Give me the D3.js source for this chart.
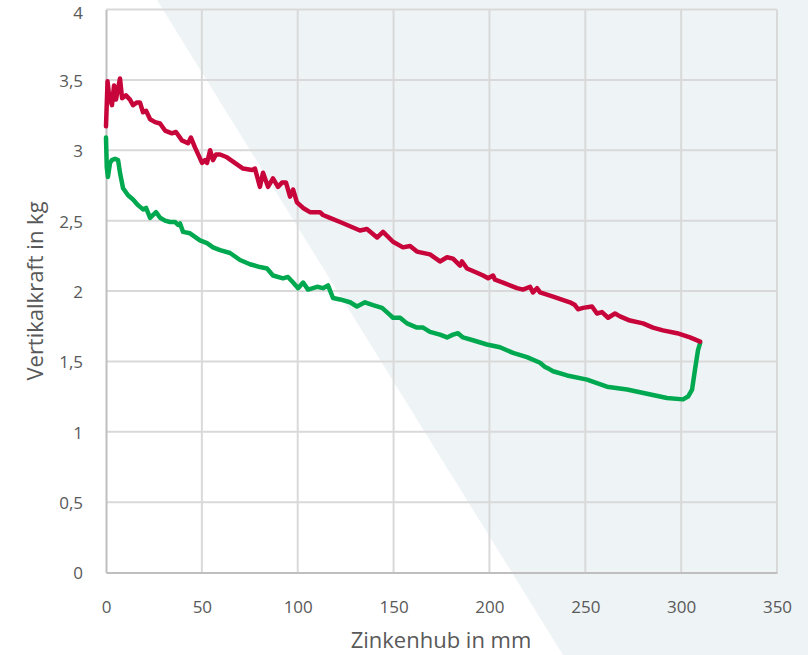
<!DOCTYPE html>
<html>
<head>
<meta charset="utf-8">
<script src="https://cdn.jsdelivr.net/npm/d3@7"></script>
<style>
  html, body { margin: 0; padding: 0; background: #ffffff; }
  svg { display: block; }
  text { font-family: "Open Sans", "Noto Sans", sans-serif; fill: #595959; }
</style>
</head>
<body>
<svg id="chart" width="808" height="655"></svg>
<script>
// ---- Data ----
const xTicks = [0, 50, 100, 150, 200, 250, 300, 350];
const yTicks = [0, 0.5, 1, 1.5, 2, 2.5, 3, 3.5, 4];
const xTitle = "Zinkenhub in mm";
const yTitle = "Vertikalkraft in kg";

const redX = [0, 0.8, 1.6, 3.1, 4.2, 5.2, 6.3, 7.3, 8.4, 10.4, 12.5, 14.1, 16.2, 17.7, 19.3, 20.9, 23.0, 25.6, 28.2, 30.8, 34.4, 36.5, 39.6, 42.8, 44.3, 46.4, 50.1, 51.6, 52.7, 54.3, 55.8, 57.4, 59.5, 63.1, 68.3, 71.5, 76.2, 77.7, 80.3, 81.9, 84.5, 87.1, 89.7, 91.8, 93.9, 96.0, 97.6, 99.6, 102.8, 106.4, 111.6, 113.2, 116.8, 122.1, 127.3, 132.5, 136.1, 141.4, 144.5, 149.7, 154.9, 158.6, 162.2, 169.0, 174.2, 177.9, 181.0, 184.7, 185.7, 188.3, 193.5, 196.7, 199.3, 201.9, 202.9, 207.1, 214.4, 217.5, 221.2, 222.7, 224.8, 226.4, 233.2, 242.0, 244.6, 246.2, 248.8, 253.5, 256.1, 258.7, 261.9, 265.5, 268.1, 273.3, 280.1, 285.3, 290.5, 297.9, 304.6, 309.9];
const redY = [3.17, 3.49, 3.39, 3.32, 3.46, 3.36, 3.44, 3.51, 3.37, 3.39, 3.36, 3.32, 3.34, 3.34, 3.27, 3.28, 3.22, 3.20, 3.19, 3.14, 3.12, 3.13, 3.07, 3.05, 3.09, 3.02, 2.91, 2.93, 2.91, 3.00, 2.93, 2.97, 2.97, 2.95, 2.90, 2.87, 2.86, 2.87, 2.74, 2.84, 2.74, 2.80, 2.74, 2.77, 2.77, 2.67, 2.72, 2.63, 2.59, 2.56, 2.56, 2.54, 2.52, 2.49, 2.46, 2.43, 2.44, 2.38, 2.42, 2.35, 2.31, 2.32, 2.28, 2.26, 2.21, 2.24, 2.23, 2.18, 2.21, 2.16, 2.13, 2.11, 2.09, 2.11, 2.08, 2.06, 2.02, 2.01, 2.03, 1.99, 2.02, 1.99, 1.96, 1.92, 1.90, 1.87, 1.88, 1.89, 1.84, 1.85, 1.81, 1.84, 1.82, 1.79, 1.77, 1.74, 1.72, 1.70, 1.67, 1.64];

const greenX = [0, 0.4, 1.0, 2.1, 3.1, 4.7, 6.3, 7.3, 8.9, 11.5, 14.1, 16.7, 19.3, 20.9, 23.0, 26.1, 28.2, 30.8, 33.4, 36.0, 37.6, 38.6, 40.2, 43.8, 49.0, 52.7, 55.8, 59.5, 64.7, 69.9, 75.1, 80.3, 84.0, 87.1, 92.3, 94.9, 97.6, 100.2, 102.8, 105.4, 110.1, 113.2, 115.8, 118.4, 122.1, 127.3, 130.9, 135.1, 139.3, 144.0, 148.1, 149.7, 153.4, 157.0, 162.2, 165.4, 169.0, 174.2, 177.9, 181.0, 183.6, 186.2, 191.4, 198.7, 205.5, 212.3, 219.6, 226.4, 229.0, 230.6, 233.2, 240.5, 250.9, 261.3, 271.8, 282.2, 292.6, 301.0, 303.6, 305.7, 307.2, 308.8, 309.9];
const greenY = [3.09, 2.88, 2.81, 2.91, 2.93, 2.94, 2.93, 2.84, 2.73, 2.68, 2.65, 2.61, 2.58, 2.59, 2.52, 2.56, 2.52, 2.50, 2.49, 2.49, 2.47, 2.48, 2.42, 2.41, 2.36, 2.34, 2.31, 2.29, 2.27, 2.22, 2.19, 2.17, 2.16, 2.11, 2.09, 2.10, 2.06, 2.02, 2.06, 2.01, 2.03, 2.02, 2.04, 1.95, 1.94, 1.92, 1.89, 1.92, 1.90, 1.88, 1.83, 1.81, 1.81, 1.77, 1.74, 1.74, 1.71, 1.69, 1.67, 1.69, 1.70, 1.67, 1.65, 1.62, 1.60, 1.56, 1.53, 1.49, 1.46, 1.45, 1.43, 1.40, 1.37, 1.32, 1.30, 1.27, 1.24, 1.23, 1.25, 1.30, 1.44, 1.58, 1.63];

const redColor = "#c8053a";
const greenColor = "#00a84f";

// ---- Chart ----
const W = 808, H = 655;
const svg = d3.select("#chart");

// decorative diagonal background band
svg.append("rect").attr("width", W).attr("height", H).attr("fill", "#ffffff");
svg.append("polygon")
  .attr("points", [[157, 0], [W, 0], [W, H], [563, H]].map(p => p.join(",")).join(" "))
  .attr("fill", "#eef3f6");

const x = d3.scaleLinear().domain([0, 350]).range([106, 777]);
const y = d3.scaleLinear().domain([0, 4]).range([572.5, 9.5]);
const fmt = d => String(d).replace(".", ",");

// grid
const grid = svg.append("g");
grid.selectAll("line.v").data(xTicks.slice(1)).join("line")
  .attr("x1", d => x(d)).attr("x2", d => x(d))
  .attr("y1", y(0)).attr("y2", y(4))
  .attr("stroke", "#d9d9d9").attr("stroke-width", 2);
grid.selectAll("line.h").data(yTicks.slice(1)).join("line")
  .attr("x1", x(0)).attr("x2", x(350))
  .attr("y1", d => y(d)).attr("y2", d => y(d))
  .attr("stroke", "#d9d9d9").attr("stroke-width", 2);

// axes
const xAxis = svg.append("g").attr("transform", `translate(0,${y(0)})`)
  .call(d3.axisBottom(x).tickValues(xTicks).tickSize(0).tickPadding(28).tickFormat(fmt));
const yAxis = svg.append("g").attr("transform", `translate(${x(0)},0)`)
  .call(d3.axisLeft(y).tickValues(yTicks).tickSize(0).tickPadding(23).tickFormat(fmt));
[xAxis, yAxis].forEach(a => {
  a.select(".domain").attr("stroke", "#bfbfbf").attr("stroke-width", 2);
  a.selectAll("text").style("font-size", "17px").attr("fill", "#595959")
    .style("font-family", "\"Open Sans\", sans-serif");
});
yAxis.selectAll("text").attr("dy", d => d === 4 ? "0.5em" : "0.38em");

// lines
const line = d3.line().x(d => x(d[0])).y(d => y(d[1]));
const redData = redX.map((v, i) => [v, redY[i]]);
const greenData = greenX.map((v, i) => [v, greenY[i]]);
svg.append("path").datum(greenData).attr("d", line)
  .attr("fill", "none").attr("stroke", greenColor).attr("stroke-width", 4.5)
  .attr("stroke-linejoin", "round").attr("stroke-linecap", "round");
svg.append("path").datum(redData).attr("d", line)
  .attr("fill", "none").attr("stroke", redColor).attr("stroke-width", 4.5)
  .attr("stroke-linejoin", "round").attr("stroke-linecap", "round");

// titles
svg.append("text").attr("x", 441).attr("y", 648).attr("text-anchor", "middle")
  .style("font-size", "22px").text(xTitle);
svg.append("text").attr("transform", `translate(43,${291}) rotate(-90)`)
  .attr("text-anchor", "middle").style("font-size", "22px").text(yTitle);
</script>
</body>
</html>
